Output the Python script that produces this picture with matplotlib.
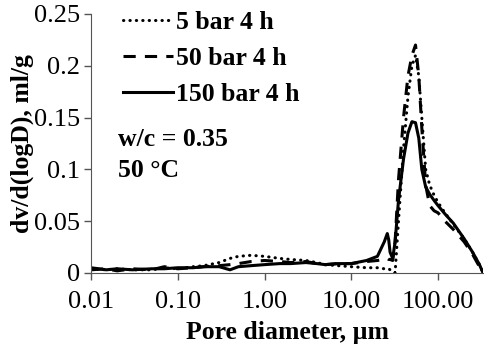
import matplotlib.pyplot as plt
from matplotlib.ticker import FixedLocator, FixedFormatter

plt.rcParams['font.family'] = ['Liberation Serif', 'DejaVu Serif']

# pore diameter (um)
diameter = [0.01, 0.015, 0.02, 0.03, 0.05, 0.07, 0.1, 0.15, 0.2, 0.3, 0.4, 0.5, 0.7, 1.0,
            1.5, 2, 3, 4, 5, 7, 10, 15, 20, 24, 26, 27, 28, 30, 32, 35, 40, 45, 50, 55,
            60, 65, 72, 80, 90, 100, 120, 150, 200, 250, 300, 330]

# dv/d(logD), ml/g
bar5 = [0.004, 0.003, 0.004, 0.003, 0.003, 0.005, 0.004, 0.006, 0.007, 0.010, 0.014, 0.016,
        0.017, 0.016, 0.014, 0.013, 0.012, 0.010, 0.008, 0.007, 0.006, 0.005, 0.005, 0.004,
        0.004, 0.004, 0.003, 0.002, 0.0, 0.05, 0.12, 0.17, 0.20, 0.21, 0.19, 0.15, 0.10,
        0.085, 0.075, 0.068, 0.058, 0.047, 0.033, 0.02, 0.008, 0.0]
bar50 = [0.003, 0.004, 0.002, 0.004, 0.003, 0.006, 0.004, 0.005, 0.006, 0.007, 0.008, 0.009,
         0.011, 0.012, 0.011, 0.010, 0.011, 0.009, 0.008, 0.009, 0.009, 0.011, 0.012, 0.013,
         0.014, 0.013, 0.013, 0.012, 0.03, 0.09, 0.15, 0.19, 0.21, 0.22, 0.19, 0.14, 0.085,
         0.065, 0.06, 0.058, 0.05, 0.042, 0.03, 0.018, 0.006, 0.0]
bar150 = [0.005, 0.003, 0.004, 0.003, 0.004, 0.004, 0.005, 0.005, 0.006, 0.006, 0.003, 0.006,
          0.007, 0.008, 0.009, 0.009, 0.010, 0.009, 0.008, 0.009, 0.009, 0.012, 0.016, 0.030,
          0.038, 0.032, 0.020, 0.014, 0.03, 0.07, 0.11, 0.135, 0.146, 0.145, 0.13, 0.10, 0.083,
          0.076, 0.07, 0.065, 0.057, 0.048, 0.033, 0.02, 0.008, 0.0]

xticks = [0.01, 0.1, 1, 10, 100]
xtick_labels = ['0.01', '0.10', '1.00', '10.00', '100.00']
yticks = [0, 0.05, 0.1, 0.15, 0.2, 0.25]
ytick_labels = ['0', '0.05', '0.1', '0.15', '0.2', '0.25']

fig = plt.figure(figsize=(4.84, 3.49), dpi=100)
ax = fig.add_axes([0.188, 0.218, 0.81, 0.742])

ax.plot(diameter, bar5, color='black', lw=2.2, linestyle=(0, (0.1, 2)),
        dash_capstyle='round', label='5 bar 4 h')
ax.plot(diameter, bar50, color='black', lw=2.2, linestyle=(0, (4, 3)), label='50 bar 4 h')
ax.plot(diameter, bar150, color='black', lw=2.2, label='150 bar 4 h')

ax.set_xscale('log')
ax.set_xlim(0.01, 330)
ax.set_ylim(0, 0.25)
ax.xaxis.set_major_locator(FixedLocator(xticks))
ax.xaxis.set_major_formatter(FixedFormatter(xtick_labels))
ax.xaxis.set_minor_locator(FixedLocator([]))
ax.set_yticks(yticks)
ax.set_yticklabels(ytick_labels)
ax.tick_params(labelsize=19, length=5, width=1, direction='out', color='#555555')
ax.tick_params(axis='x', pad=8)
ax.tick_params(axis='y', pad=3)

for side in ['top', 'right']:
    ax.spines[side].set_visible(False)
for side in ['left', 'bottom']:
    ax.spines[side].set_color('#555555')

ax.set_xlabel('Pore diameter, µm', fontsize=18.5, fontweight='bold', labelpad=6)
ax.set_ylabel('dv/d(logD), ml/g', fontsize=18.5, fontweight='bold')
ax.yaxis.set_label_coords(-0.145, 0.5)

ax.legend(loc='upper left', bbox_to_anchor=(0.055, 1.05), frameon=False,
          prop={'weight': 'bold', 'size': 18.5}, handlelength=1.95, handletextpad=0.1,
          labelspacing=0.5, borderaxespad=0)
ax.text(0.07, 0.56, 'w/c = 0.35\n50 °C', transform=ax.transAxes, fontsize=18.5,
        fontweight='bold', va='top', linespacing=1.45)

fig.savefig('out.png', dpi=100)
